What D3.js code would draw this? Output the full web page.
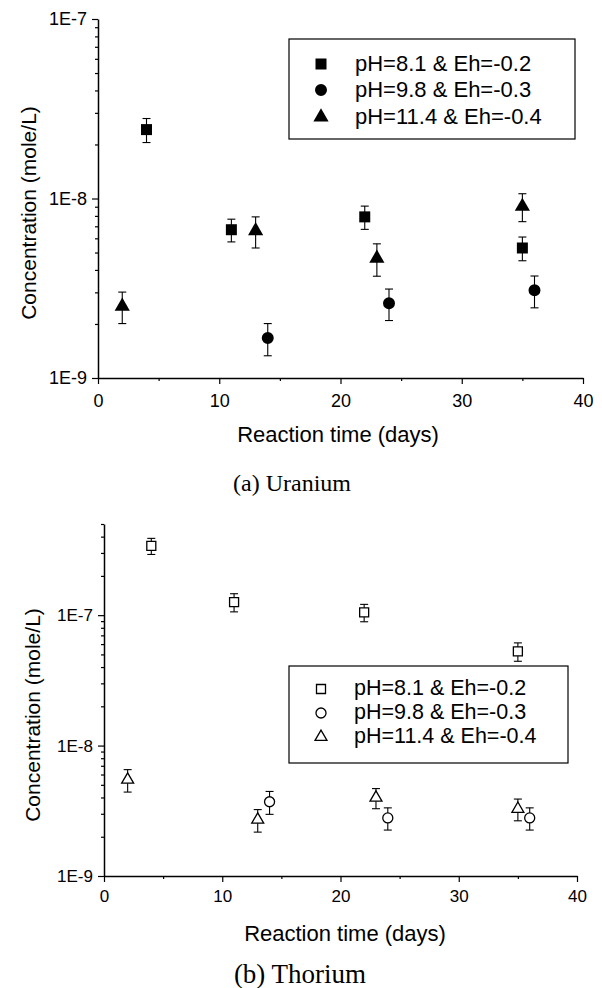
<!DOCTYPE html>
<html>
<head>
<meta charset="utf-8">
<script src="https://cdn.jsdelivr.net/npm/d3@7"></script>
<style>
  body { margin: 0; background: #fff; }
  text { font-family: "Liberation Sans", Arial, sans-serif; fill: #000; }
</style>
</head>
<body>
<div id="chart"></div>
<script>
// legend labels and axis ticks
const seriesNames = ["pH=8.1 & Eh=-0.2", "pH=9.8 & Eh=-0.3", "pH=11.4 & Eh=-0.4"];
const xMajorTicks = [0, 10, 20, 30, 40];
const xMinorTicks = [5, 15, 25, 35];
const yMajorTicks = [1e-9, 1e-8, 1e-7];

// (a) Uranium
const uSquareDays = [4, 11, 22, 35];
const uSquareConc = [2.42e-8, 6.7e-9, 7.9e-9, 5.3e-9];
const uSquareErr  = [0.37e-8, 0.97e-9, 1.17e-9, 0.8e-9];
const uCircleDays = [14, 24, 36];
const uCircleConc = [1.67e-9, 2.61e-9, 3.08e-9];
const uCircleErr  = [0.34e-9, 0.52e-9, 0.62e-9];
const uTriDays = [2, 13, 23, 35];
const uTriConc = [2.51e-9, 6.6e-9, 4.64e-9, 9.03e-9];
const uTriErr  = [0.5e-9, 1.3e-9, 0.95e-9, 1.6e-9];

// (b) Thorium
const thSquareDays = [4, 11, 22, 35];
const thSquareConc = [3.4e-7, 1.26e-7, 1.05e-7, 5.28e-8];
const thSquareErr  = [0.48e-7, 0.2e-7, 0.16e-7, 0.85e-8];
const thCircleDays = [14, 24, 36];
const thCircleConc = [3.71e-9, 2.79e-9, 2.79e-9];
const thCircleErr  = [0.74e-9, 0.54e-9, 0.54e-9];
const thTriDays = [2, 13, 23, 35];
const thTriConc = [5.47e-9, 2.7e-9, 3.98e-9, 3.27e-9];
const thTriErr  = [1.07e-9, 0.53e-9, 0.7e-9, 0.62e-9];

const width = 602, height = 988;
const svg = d3.select("#chart").append("svg")
  .attr("width", width).attr("height", height);
svg.append("rect").attr("width", width).attr("height", height).attr("fill", "#fff");

const symbols = [d3.symbolSquare, d3.symbolCircle, d3.symbolTriangle];

function zip(days, conc, err) {
  return days.map((d, i) => ({ day: d, value: conc[i], err: err[i] }));
}

function drawPanel(cfg) {
  const x = d3.scaleLinear().domain([0, 40]).range([cfg.left, cfg.right]);
  const y = d3.scaleLog().domain(cfg.yDomain).range([cfg.bottom, cfg.top]);
  const g = svg.append("g");

  // x axis, major then minor ticks
  const xg = g.append("g").attr("transform", `translate(0,${cfg.bottom})`);
  xg.call(d3.axisBottom(x).tickValues(xMajorTicks).tickSize(6).tickPadding(cfg.xPad).tickSizeOuter(0));
  xg.append("g").call(d3.axisBottom(x).tickValues(xMinorTicks).tickSize(3).tickFormat("").tickSizeOuter(0))
    .select(".domain").remove();
  xg.selectAll("text").style("font-size", cfg.tickFont + "px").attr("font-family", null);

  // y axis (log), minor ticks from the scale
  const minor = y.ticks().filter(v => !yMajorTicks.some(m => Math.abs(m - v) / m < 1e-6));
  const yg = g.append("g").attr("transform", `translate(${cfg.left},0)`);
  yg.call(d3.axisLeft(y).tickValues(yMajorTicks).tickSize(6).tickPadding(5).tickSizeOuter(0)
    .tickFormat(d => "1E" + Math.round(Math.log10(d))));
  yg.append("g").call(d3.axisLeft(y).tickValues(minor).tickSize(3).tickFormat("").tickSizeOuter(0))
    .select(".domain").remove();
  yg.selectAll("text").style("font-size", cfg.tickFont + "px").attr("font-family", null);

  g.selectAll(".domain").attr("stroke-width", 1.5);
  g.selectAll(".tick line").attr("stroke-width", 1.2);

  // axis titles
  g.append("text")
    .attr("transform", `translate(${cfg.yTitleX},${cfg.yTitleY}) rotate(-90)`)
    .attr("text-anchor", "middle")
    .style("font-size", "21px")
    .text("Concentration (mole/L)");
  g.append("text")
    .attr("x", cfg.xTitleX).attr("y", cfg.xTitleY)
    .attr("text-anchor", "middle")
    .style("font-size", "22px")
    .text("Reaction time (days)");

  // caption
  g.append("text")
    .attr("x", cfg.capX).attr("y", cfg.capY)
    .attr("text-anchor", "middle")
    .style("font-family", "'Liberation Serif', 'Times New Roman', serif")
    .style("font-size", cfg.capFont + "px")
    .text(cfg.caption);

  // series: error bars then markers
  cfg.series.forEach((s, i) => {
    const sg = g.append("g");
    const cap = 4;
    const eb = sg.selectAll(".err").data(s).enter().append("g")
      .attr("stroke", "#000").attr("stroke-width", 1.1);
    eb.append("line")
      .attr("x1", d => x(d.day)).attr("x2", d => x(d.day))
      .attr("y1", d => y(d.value + d.err)).attr("y2", d => y(d.value - d.err));
    eb.append("line")
      .attr("x1", d => x(d.day) - cap).attr("x2", d => x(d.day) + cap)
      .attr("y1", d => y(d.value + d.err)).attr("y2", d => y(d.value + d.err));
    eb.append("line")
      .attr("x1", d => x(d.day) - cap).attr("x2", d => x(d.day) + cap)
      .attr("y1", d => y(d.value - d.err)).attr("y2", d => y(d.value - d.err));

    sg.selectAll(".pt").data(s).enter().append("path")
      .attr("transform", d => `translate(${x(d.day)},${y(d.value)})`)
      .attr("d", d3.symbol().type(symbols[i]).size(cfg.sizes[i]))
      .attr("fill", cfg.open ? "#fff" : "#000")
      .attr("stroke", "#000")
      .attr("stroke-width", cfg.open ? 1.3 : 0);
  });

  // legend
  const lg = g.append("g");
  const lb = cfg.legend;
  lg.append("rect")
    .attr("x", lb.x).attr("y", lb.y).attr("width", lb.w).attr("height", lb.h)
    .attr("fill", "#fff").attr("stroke", "#000").attr("stroke-width", 1.2);
  seriesNames.forEach((name, i) => {
    const by = lb.rows[i];
    lg.append("path")
      .attr("transform", `translate(${lb.symX},${by - lb.symDy})`)
      .attr("d", d3.symbol().type(symbols[i]).size(cfg.sizes[i]))
      .attr("fill", cfg.open ? "#fff" : "#000")
      .attr("stroke", "#000")
      .attr("stroke-width", cfg.open ? 1.3 : 0);
    lg.append("text")
      .attr("x", lb.textX).attr("y", by)
      .style("font-size", lb.font + "px")
      .text(name);
  });
}

drawPanel({
  left: 98, right: 583, top: 19, bottom: 378,
  yDomain: [1e-9, 1e-7], xPad: 10, tickFont: 18,
  yTitleX: 36, yTitleY: 213, xTitleX: 338, xTitleY: 442,
  capX: 292, capY: 491, capFont: 24, caption: "(a) Uranium",
  open: false, sizes: [121, 113, 100],
  series: [zip(uSquareDays, uSquareConc, uSquareErr),
           zip(uCircleDays, uCircleConc, uCircleErr),
           zip(uTriDays, uTriConc, uTriErr)],
  legend: { x: 289, y: 39, w: 286, h: 100, rows: [71, 97, 124], symX: 321, symDy: 7, textX: 355, font: 22 }
});

drawPanel({
  left: 104, right: 577, top: 524, bottom: 876,
  yDomain: [1e-9, 5e-7], xPad: 8, tickFont: 17,
  yTitleX: 40, yTitleY: 715, xTitleX: 345, xTitleY: 941,
  capX: 300, capY: 983, capFont: 27, caption: "(b) Thorium",
  open: true, sizes: [81, 79, 62],
  series: [zip(thSquareDays, thSquareConc, thSquareErr),
           zip(thCircleDays, thCircleConc, thCircleErr),
           zip(thTriDays, thTriConc, thTriErr)],
  legend: { x: 289, y: 666, w: 279, h: 97, rows: [695, 719, 743], symX: 321, symDy: 6, textX: 354, font: 21.5 }
});
</script>
</body>
</html>
